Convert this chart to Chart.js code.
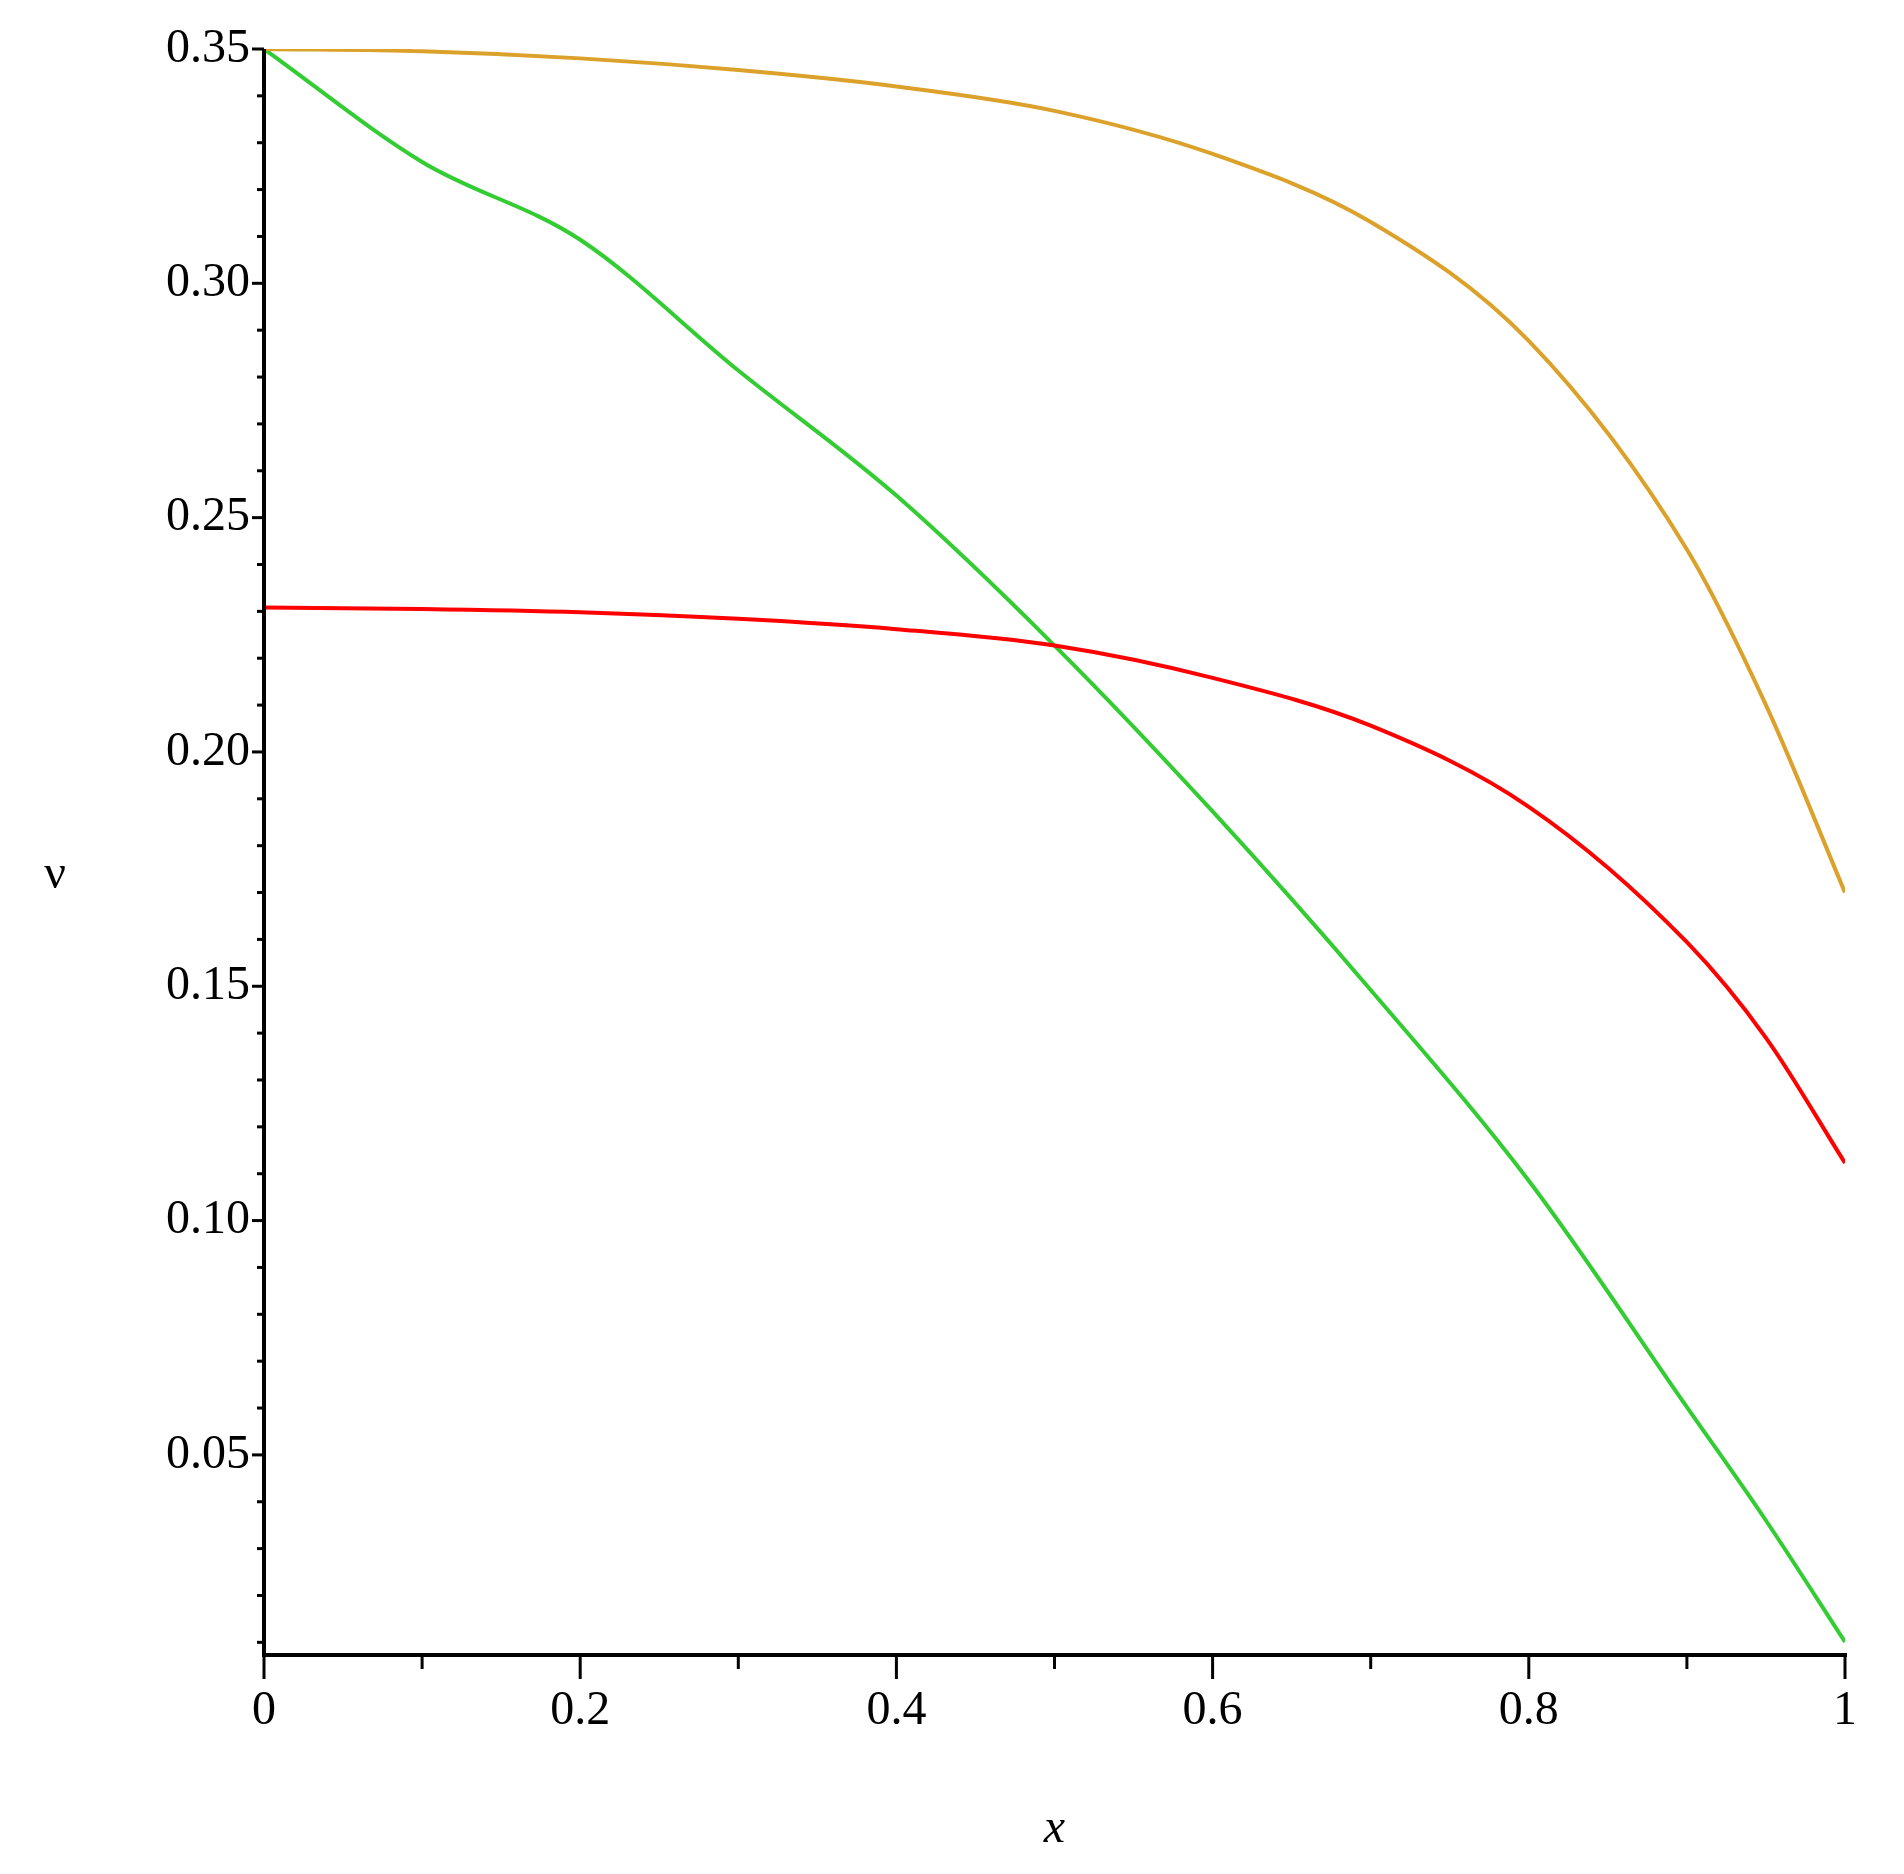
<!DOCTYPE html>
<html>
<head>
<meta charset="utf-8">
<script src="https://cdn.jsdelivr.net/npm/chart.js@4"></script>
<style>
  html, body { margin: 0; padding: 0; background: #fff; }
</style>
</head>
<body>
<canvas id="myChart" width="1904" height="1874" style="width:1904px;height:1874px"></canvas>
<script>
// values
const xs = [0, 0.1, 0.2, 0.3, 0.4, 0.5, 0.6, 0.7, 0.8, 0.9, 0.95, 1];
const orange = [0.350, 0.3495, 0.348, 0.3455, 0.342, 0.3368, 0.3276, 0.3131, 0.2877, 0.2432, 0.210, 0.170];
const red = [0.2308, 0.2305, 0.2298, 0.2284, 0.2262, 0.2227, 0.2158, 0.2056, 0.1883, 0.1594, 0.139, 0.1123];
const green = [0.350, 0.3259, 0.3093, 0.2814, 0.2547, 0.2227, 0.1873, 0.1492, 0.1085, 0.0602, 0.036, 0.0101];
const xLabels = [0, 0.2, 0.4, 0.6, 0.8, 1];
const yLabels = [0.05, 0.10, 0.15, 0.20, 0.25, 0.30, 0.35];

const FONT = '"Liberation Serif", "DejaVu Serif", serif';

function pts(ys) { return xs.map((x, i) => ({ x: x, y: ys[i] })); }

const axisPlugin = {
  id: 'axisPlugin',
  afterDraw(chart) {
    const c = chart.ctx, xa = chart.scales.x, ya = chart.scales.y, a = chart.chartArea;
    c.save();
    c.strokeStyle = '#000';
    c.lineWidth = 4;
    c.beginPath();
    c.moveTo(a.left, a.top); c.lineTo(a.left, a.bottom); c.lineTo(a.right + 2, a.bottom);
    c.stroke();
    c.lineWidth = 3;
    for (let i = 1; i <= 35; i++) {
      const v = i / 100, p = ya.getPixelForValue(v);
      if (p > a.bottom) continue;
      const len = (i % 5 === 0) ? 12 : 7;
      c.beginPath(); c.moveTo(a.left - len, p); c.lineTo(a.left, p); c.stroke();
    }
    for (let i = 0; i <= 10; i++) {
      const p = xa.getPixelForValue(i / 10);
      const len = (i % 2 === 0) ? 24 : 14;
      c.beginPath(); c.moveTo(p, a.bottom); c.lineTo(p, a.bottom + len); c.stroke();
    }
    c.fillStyle = '#000';
    c.font = '48px ' + FONT;
    c.textAlign = 'right'; c.textBaseline = 'middle';
    yLabels.forEach(v => c.fillText(v.toFixed(2), a.left - 14, ya.getPixelForValue(v)));
    c.textAlign = 'center'; c.textBaseline = 'top';
    xLabels.forEach(v => c.fillText(String(v), xa.getPixelForValue(v), a.bottom + 32));
    c.font = 'italic 48px ' + FONT;
    c.fillText('x', (a.left + a.right) / 2, 1805);
    c.font = '48px ' + FONT;
    c.textBaseline = 'middle';
    c.fillText('ν', 55, 875);
    c.restore();
  }
};

new Chart(document.getElementById('myChart'), {
  type: 'line',
  data: {
    datasets: [
      { data: pts(orange), borderColor: '#dba12a' },
      { data: pts(red), borderColor: '#ff0000' },
      { data: pts(green), borderColor: '#33cc33' }
    ]
  },
  options: {
    responsive: false,
    animation: false,
    devicePixelRatio: 1,
    layout: { padding: { top: 49, right: 59, left: 0, bottom: 0 } },
    elements: { point: { radius: 0 }, line: { borderWidth: 4, cubicInterpolationMode: 'monotone' } },
    plugins: { legend: { display: false }, tooltip: { enabled: false } },
    scales: {
      x: {
        type: 'linear', min: 0, max: 1,
        grid: { display: false }, border: { display: false },
        ticks: { display: false },
        afterFit(s) { s.height = 219; }
      },
      y: {
        min: 0.0073, max: 0.35,
        grid: { display: false }, border: { display: false },
        ticks: { display: false },
        afterFit(s) { s.width = 264; }
      }
    }
  },
  plugins: [axisPlugin]
});
</script>
</body>
</html>
